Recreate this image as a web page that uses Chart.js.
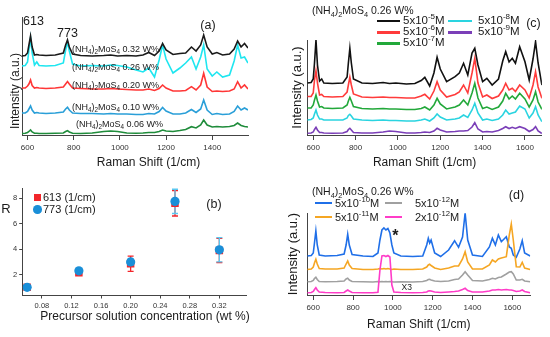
<!DOCTYPE html>
<html>
<head>
<meta charset="utf-8">
<script src="https://cdn.jsdelivr.net/npm/chart.js@4.4.1/dist/chart.umd.min.js"></script>
<style>
  body { margin: 0; background: #fff; }
  #wrap { position: relative; width: 550px; height: 337px; overflow: hidden; font-family: "Liberation Sans", Arial, sans-serif; color: #1a1a1a; }
  #wrap canvas { position: absolute; left: 0; top: 0; }
  .lbl { position: absolute; white-space: nowrap; line-height: 1; }
  .mid { transform: translateY(-50%); }
  .ctr { transform: translate(-50%, -50%); }
  .rot { transform: translate(-50%, -50%) rotate(-90deg); }
  .lbl sub, .lbl sup { font-size: 70%; line-height: 0; }
  .key { position: absolute; }
</style>
</head>
<body>
<div id="wrap">
  <canvas id="chartA" width="550" height="337"></canvas>
  <canvas id="chartB" width="550" height="337"></canvas>
  <canvas id="chartC" width="550" height="337"></canvas>
  <canvas id="chartD" width="550" height="337"></canvas>

  <!-- (a) -->
  <div class="lbl" style="left:23px;top:15px;font-size:12.5px">613</div>
  <div class="lbl" style="left:57px;top:27px;font-size:12.5px">773</div>
  <div class="lbl ctr" style="left:208px;top:25px;font-size:12.5px">(a)</div>
  <div class="lbl mid" style="left:72px;top:49px;font-size:9px">(NH<sub>4</sub>)<sub>2</sub>MoS<sub>4</sub> 0.32 W%</div>
  <div class="lbl mid" style="left:72px;top:66.7px;font-size:9px">(NH<sub>4</sub>)<sub>2</sub>MoS<sub>4</sub> 0.26 W%</div>
  <div class="lbl mid" style="left:72px;top:85px;font-size:9px">(NH<sub>4</sub>)<sub>2</sub>MoS<sub>4</sub> 0.20 W%</div>
  <div class="lbl mid" style="left:72px;top:106.7px;font-size:9px">(NH<sub>4</sub>)<sub>2</sub>MoS<sub>4</sub> 0.10 W%</div>
  <div class="lbl mid" style="left:76px;top:124.3px;font-size:9px">(NH<sub>4</sub>)<sub>2</sub>MoS<sub>4</sub> 0.06 W%</div>
  <div class="lbl ctr" style="left:148.5px;top:162px;font-size:12px">Raman Shift (1/cm)</div>
  <div class="lbl rot" style="left:15px;top:90.5px;font-size:12px">Intensity (a.u.)</div>

  <!-- (b) -->
  <div class="key" style="left:33.8px;top:193.8px;width:7px;height:7px;background:#f2262b"></div>
  <div class="lbl mid" style="left:43px;top:197.3px;font-size:11px">613 (1/cm)</div>
  <div class="key" style="left:33px;top:205px;width:8.6px;height:8.6px;border-radius:50%;background:#1a8fd8"></div>
  <div class="lbl mid" style="left:43px;top:209.3px;font-size:11px">773 (1/cm)</div>
  <div class="lbl ctr" style="left:6px;top:208px;font-size:13px">R</div>
  <div class="lbl ctr" style="left:214px;top:204px;font-size:12.5px">(b)</div>
  <div class="lbl ctr" style="left:145px;top:316px;font-size:12px">Precursor solution concentration (wt %)</div>

  <!-- (c) -->
  <div class="lbl mid" style="left:312px;top:10px;font-size:10.5px">(NH<sub>4</sub>)<sub>2</sub>MoS<sub>4</sub> 0.26 W%</div>
  <div class="key" style="left:376.7px;top:19.5px;width:23.3px;height:2.5px;background:#111"></div>
  <div class="key" style="left:376.7px;top:31.1px;width:23.3px;height:2.5px;background:#ff3b3b"></div>
  <div class="key" style="left:376.7px;top:42.1px;width:23.3px;height:2.5px;background:#22a83a"></div>
  <div class="key" style="left:448px;top:19.5px;width:24px;height:2.5px;background:#2ad4e0"></div>
  <div class="key" style="left:448px;top:31.1px;width:24px;height:2.5px;background:#7b3fb8"></div>
  <div class="lbl mid" style="left:403px;top:20.7px;font-size:11.5px">5x10<sup>-5</sup>M</div>
  <div class="lbl mid" style="left:403px;top:32.3px;font-size:11.5px">5x10<sup>-6</sup>M</div>
  <div class="lbl mid" style="left:403px;top:43.3px;font-size:11.5px">5x10<sup>-7</sup>M</div>
  <div class="lbl mid" style="left:478px;top:20.7px;font-size:11.5px">5x10<sup>-8</sup>M</div>
  <div class="lbl mid" style="left:478px;top:32.3px;font-size:11.5px">5x10<sup>-9</sup>M</div>
  <div class="lbl ctr" style="left:533.5px;top:23.3px;font-size:12.5px">(c)</div>

  <!-- (d) -->
  <div class="lbl mid" style="left:312px;top:190.7px;font-size:10.5px">(NH<sub>4</sub>)<sub>2</sub>MoS<sub>4</sub> 0.26 W%</div>
  <div class="key" style="left:315px;top:202.3px;width:17px;height:2px;background:#1f6fe8"></div>
  <div class="key" style="left:315px;top:215.7px;width:17px;height:2px;background:#f5a623"></div>
  <div class="key" style="left:385px;top:202.3px;width:17px;height:2px;background:#a0a0a0"></div>
  <div class="key" style="left:385px;top:215.7px;width:17px;height:2px;background:#ff3cc8"></div>
  <div class="lbl mid" style="left:335px;top:203.3px;font-size:11px">5x10<sup>-10</sup>M</div>
  <div class="lbl mid" style="left:335px;top:216.7px;font-size:11px">5x10<sup>-11</sup>M</div>
  <div class="lbl mid" style="left:415px;top:203.3px;font-size:11px">5x10<sup>-12</sup>M</div>
  <div class="lbl mid" style="left:415px;top:216.7px;font-size:11px">2x10<sup>-12</sup>M</div>
  <div class="lbl ctr" style="left:516.5px;top:195px;font-size:12.5px">(d)</div>
  <div class="lbl ctr" style="left:395.3px;top:236px;font-size:16px;font-weight:bold">*</div>
  <div class="lbl ctr" style="left:406.7px;top:287px;font-size:8.5px">X3</div>
</div>

<script>
// panel (a): precursor concentration series
const aShift = [576, 590, 600, 606, 613, 620, 630, 640, 650, 680, 720, 755, 765, 773, 781, 795, 830, 880, 930, 960, 990, 1030, 1070, 1100, 1125, 1150, 1170, 1185, 1200, 1230, 1260, 1285, 1310, 1330, 1350, 1363, 1378, 1400, 1420, 1445, 1475, 1495, 1510, 1525, 1540, 1555];
const a032 = [79, 79.5, 82, 90, 99, 88, 80, 80.5, 80, 79.5, 80, 82, 90, 95, 88, 81, 79.5, 79, 79.5, 80, 79, 79.5, 79, 80, 82.5, 79.5, 84, 91.5, 85, 80.5, 81.5, 82, 88, 84, 90, 100, 88, 81, 82.5, 80, 81, 86, 94, 88, 91.5, 87];
const a026 = [69, 69.5, 73, 85, 97, 82, 70, 73, 69.5, 69, 69.5, 72, 85, 93, 84, 71, 69, 69.5, 69, 70, 69.5, 68, 65, 63, 67, 58, 75, 90, 76, 62, 67, 72, 78, 66, 78, 90, 66, 59, 63, 58, 60, 74, 90, 77, 78, 72];
const a020 = [47, 47, 49, 51, 55, 49.5, 47, 47.5, 47, 46.5, 47, 48, 51, 53.5, 51, 47, 46.5, 46, 46, 46.5, 46, 45.5, 45, 45, 46, 44.5, 46.5, 50, 47, 44, 44, 44.5, 48.3, 45, 50, 61.7, 48, 43.5, 44, 43.5, 44, 46, 53.3, 47, 50, 46];
const a010 = [22, 22, 23.5, 26, 29, 25, 22, 22.5, 22, 21.5, 22, 23, 26, 27.7, 25, 22, 21.5, 21.5, 21, 21.5, 21, 21, 20.5, 20.5, 21.5, 21, 23.5, 27.5, 24, 21, 21, 22, 25.5, 22.5, 26, 35, 25, 20.5, 21.5, 20.5, 21, 23.5, 29, 25, 27, 25];
const a006 = [1.5, 1.7, 2.5, 3.5, 5, 3, 1.7, 1.8, 1.5, 1.5, 1.7, 2, 3.5, 4.3, 3, 1.7, 1.5, 2, 3.5, 4, 3.5, 2, 1.7, 2, 2.5, 2.5, 3.5, 5, 4, 3.5, 4.5, 5.5, 8.3, 7, 10, 15, 10, 8, 8.5, 8, 8.5, 9.5, 12, 9.5, 8.5, 8];
const aTicks = [600, 800, 1000, 1200, 1400];

// panel (b): enhancement ratio vs concentration
const concX = [0.06, 0.13, 0.20, 0.26, 0.32];
const r613 = [1.0, 2.15, 2.85, 7.6, 3.9];
const r773 = [1.0, 2.3, 3.0, 7.75, 3.95];
const err613 = [0.1, 0.15, 0.6, 1.0, 0.95];
const err773 = [0.1, 0.15, 0.25, 0.95, 0.95];
const bXTicks = [0.08, 0.12, 0.16, 0.20, 0.24, 0.28, 0.32];
const bYTicks = [2, 4, 6, 8];

// panel (c): R6G dilution, 5e-5 ... 5e-9 M
const cShift = [572, 590, 600, 606, 613, 620, 630, 640, 650, 690, 740, 760, 766, 773, 780, 790, 830, 880, 930, 960, 990, 1040, 1080, 1110, 1127, 1150, 1170, 1185, 1200, 1230, 1270, 1290, 1310, 1330, 1350, 1363, 1378, 1400, 1420, 1445, 1475, 1495, 1509, 1525, 1540, 1555, 1575, 1600, 1620, 1638, 1650, 1662, 1680];
const c5e5 = [52, 52.5, 56, 72, 95, 70, 54, 56, 52, 51.5, 52, 58, 72, 86.7, 72, 56, 52, 51.5, 52.5, 51.5, 52, 51, 51.5, 54.5, 57.7, 49, 62, 77.7, 66, 53.3, 58.3, 62, 71.7, 60, 82, 86.7, 70, 53.3, 56.7, 50, 56, 74, 83.3, 73, 76.7, 71.7, 88.3, 73.3, 55, 76, 93.3, 72, 50];
const c5e6 = [38.5, 38.5, 42, 55, 64.3, 52, 40, 40.5, 38.5, 38, 38.5, 43, 50, 57.7, 50, 41, 38, 37.5, 38, 37.5, 37.5, 37, 37, 39, 40.7, 36, 44, 53.3, 45, 38, 40.5, 43, 50, 42, 62, 76.7, 52, 38, 40, 36.5, 39, 45, 51.7, 45, 46.7, 43.5, 50, 45, 37, 50, 63.3, 48, 36.7];
const c5e7 = [27, 27, 30, 35, 40, 34, 28, 28.5, 27, 26.5, 27, 30, 34, 37.7, 34, 28.5, 26.5, 26, 26.5, 26, 26, 25.5, 25.5, 26.5, 28, 25, 30, 36.7, 31, 26, 28, 30, 35, 30, 42, 51.7, 37, 26.5, 28, 25.5, 28, 34, 41.7, 36, 39, 36, 41.7, 36, 28, 35, 43.3, 33, 25.7];
const c5e8 = [15, 15.5, 17, 21, 25, 20, 16, 16, 15, 15, 15, 17, 19.5, 20.7, 19, 16, 15, 14.5, 15, 14.5, 14.5, 14, 14, 15, 16, 14, 17, 21, 18, 15, 16, 17, 20, 17.5, 25, 31.7, 22, 15, 16, 14.5, 16, 20, 25, 21, 22, 23, 29, 26, 17, 22, 28.3, 20, 13.3];
const c5e9 = [1.8, 2, 3, 5.5, 7.7, 5, 2.5, 2.5, 2, 1.8, 2, 3.5, 5.5, 6.7, 5, 2.5, 2, 2, 3, 4, 3.5, 2, 2, 2.5, 3, 2.5, 4, 6.7, 5, 3, 3.5, 4, 4, 4.5, 8, 12.3, 6, 3, 3.5, 3, 4.5, 6.5, 8.3, 6.5, 7.7, 6.5, 8.3, 6.5, 3.5, 5.5, 8.3, 4, 1.5];
const cTicks = [600, 800, 1000, 1200, 1400, 1600];

// panel (d): lowest concentrations, 5e-10 ... 2e-12 M
const dShift = [570, 590, 600, 606, 613, 620, 630, 660, 720, 755, 765, 773, 781, 795, 850, 900, 925, 935, 945, 955, 965, 975, 985, 995, 1005, 1040, 1100, 1150, 1170, 1178, 1185, 1192, 1210, 1240, 1280, 1310, 1330, 1350, 1363, 1376, 1400, 1450, 1485, 1500, 1515, 1530, 1545, 1570, 1585, 1595, 1605, 1620, 1638, 1650, 1662, 1690];
const d5e10 = [39, 39.5, 42, 52, 64, 50, 40, 39, 39.5, 41, 50, 60.7, 50, 40.5, 39, 38.5, 42, 55, 65, 67, 65, 66.5, 62, 50, 42, 39, 38.5, 39, 50, 56.7, 52, 55, 42, 38.5, 45, 54.3, 47.7, 58, 82, 55, 40, 38.5, 48, 56.7, 50, 60, 53.3, 58.3, 48, 46.7, 40, 37.7, 46, 54.3, 42, 39];
const d5e11 = [25.5, 26, 28, 32, 35.7, 31, 26.5, 26, 26, 27, 31, 34, 30, 26.5, 25.5, 25.5, 26, 26.5, 26, 26.5, 26, 26.5, 26, 25.5, 26, 25.5, 25.5, 26, 28, 30, 30.7, 29.5, 27, 25.5, 27, 29, 29, 36, 43.3, 33, 26, 26, 30, 35, 33, 36, 37, 38.3, 60, 71, 55, 28.3, 28, 32.7, 27, 25.5];
const d5e12 = [13.3, 13.5, 14.5, 16.5, 17.7, 15.5, 13.5, 13.3, 13.5, 14, 16, 16.7, 15, 13.5, 13.3, 13, 13.5, 13.3, 13.5, 13.3, 13.5, 13.3, 13.5, 13.3, 13, 13.3, 13, 13.5, 14.5, 15.5, 15.7, 15, 14, 13.5, 14, 15.5, 16, 20, 23.3, 20, 14.5, 14, 15.5, 16.7, 16, 17.5, 18, 21, 23, 23.3, 21, 15, 15, 15.7, 14, 13.3];
const d2e12 = [2.3, 2.5, 3.5, 5.5, 7.3, 5, 3, 2.5, 2.3, 2.5, 4, 5, 4, 2.5, 2.3, 2.3, 2.8, 25, 39, 39.5, 38.5, 39.5, 38, 10, 3, 2.5, 2.3, 2.5, 3, 4, 4.3, 4, 3, 2.5, 3, 3.5, 4, 5.5, 6.7, 4.5, 3, 3, 4, 5, 5, 5.5, 5, 5.5, 5, 5, 4.5, 3.5, 4, 5, 3.5, 2.3];
const dTicks = [600, 800, 1000, 1200, 1400, 1600];

const family = "'Liberation Sans', Arial, sans-serif";
const axisColor = "#444";

// chart area given in page pixels; axis boxes fixed so the area lands exactly there
function padFor(area, yW, xH) {
  return { left: area.left - yW, top: area.top, right: 550 - area.right, bottom: 337 - area.bottom - xH };
}

function spectra(id, shifts, lines, cfg) {
  new Chart(document.getElementById(id), {
    type: "line",
    data: {
      datasets: lines.map((l) => ({
        data: shifts.map((x, i) => ({ x, y: l.values[i] })),
        borderColor: l.color,
        borderWidth: 1.6,
        pointRadius: 0,
        fill: false,
      })),
    },
    options: {
      responsive: false,
      animation: false,
      events: [],
      devicePixelRatio: 1,
      layout: { padding: padFor(cfg.area, cfg.yW, cfg.xH) },
      plugins: { legend: { display: false }, tooltip: { enabled: false } },
      scales: {
        x: {
          type: "linear",
          min: cfg.xMin,
          max: cfg.xMax,
          afterFit: (s) => { s.height = cfg.xH; },
          afterBuildTicks: (s) => { s.ticks = cfg.ticks.map((v) => ({ value: v })); },
          ticks: {
            maxRotation: 0,
            padding: 3,
            color: "#333",
            font: { family, size: 8 },
            callback: (v) => String(v),
          },
          grid: { drawOnChartArea: false, tickLength: 5, color: axisColor },
          border: { color: axisColor, width: 1 },
          title: cfg.xTitle
            ? { display: true, text: cfg.xTitle, color: "#1a1a1a", font: { family, size: 12 }, padding: 0 }
            : { display: false },
        },
        y: {
          min: 0,
          max: cfg.yMax,
          afterFit: (s) => { s.width = cfg.yW; },
          ticks: { display: false },
          grid: { display: false },
          border: { color: axisColor, width: 1 },
          title: cfg.yTitle
            ? { display: true, text: cfg.yTitle, color: "#1a1a1a", font: { family, size: 13 }, padding: { top: cfg.yTitlePad, bottom: 0 } }
            : { display: false },
        },
      },
    },
  });
}

spectra("chartA", aShift, [
  { values: a032, color: "#1a1a1a" },
  { values: a026, color: "#1fe6f0" },
  { values: a020, color: "#ff3636" },
  { values: a010, color: "#2a9fd8" },
  { values: a006, color: "#1f8c3b" },
], { area: { left: 22, top: 17, right: 248, bottom: 135 }, yW: 22, xH: 35, xMin: 576, xMax: 1555, yMax: 118, ticks: aTicks });

spectra("chartC", cShift, [
  { values: c5e5, color: "#111111" },
  { values: c5e6, color: "#ff3b3b" },
  { values: c5e7, color: "#22a83a" },
  { values: c5e8, color: "#2ad4e0" },
  { values: c5e9, color: "#7b3fb8" },
], { area: { left: 307.3, top: 40, right: 541.9, bottom: 135 }, yW: 20, xH: 35, xMin: 572, xMax: 1680, yMax: 95, ticks: cTicks,
     xTitle: "Raman Shift (1/cm)", yTitle: "Intensity (a.u.)", yTitlePad: 2 });

spectra("chartD", dShift, [
  { values: d2e12, color: "#ff3cc8" },
  { values: d5e11, color: "#f5a623" },
  { values: d5e10, color: "#1f6fe8" },
  { values: d5e12, color: "#a0a0a0" },
], { area: { left: 307.3, top: 213.3, right: 530.2, bottom: 295 }, yW: 24, xH: 36.5, xMin: 570, xMax: 1690, yMax: 81.7, ticks: dTicks,
     xTitle: "Raman Shift (1/cm)", yTitle: "Intensity (a.u.)", yTitlePad: 2.2 });

// error bars for panel (b), drawn under the markers
const errorBars = {
  id: "errorBars",
  beforeDatasetsDraw(chart) {
    const { ctx, scales: { x, y } } = chart;
    const sets = [[r613, err613, "#f2262b"], [r773, err773, "#5cc8f0"]];
    ctx.save();
    ctx.lineWidth = 1.3;
    sets.forEach(([vals, errs, color]) => {
      ctx.strokeStyle = color;
      concX.forEach((c, i) => {
        const px = x.getPixelForValue(c);
        const top = y.getPixelForValue(vals[i] + errs[i]);
        const bot = y.getPixelForValue(vals[i] - errs[i]);
        ctx.beginPath();
        ctx.moveTo(px, top); ctx.lineTo(px, bot);
        ctx.moveTo(px - 3, top); ctx.lineTo(px + 3, top);
        ctx.moveTo(px - 3, bot); ctx.lineTo(px + 3, bot);
        ctx.stroke();
      });
    });
    ctx.restore();
  },
};

const bArea = { left: 22.7, top: 188, right: 246.7, bottom: 295 };
new Chart(document.getElementById("chartB"), {
  type: "scatter",
  data: {
    datasets: [
      { label: "773 (1/cm)", data: concX.map((x, i) => ({ x, y: r773[i] })), pointStyle: "circle", pointRadius: 4.6, backgroundColor: "#1a8fd8", borderWidth: 0 },
      { label: "613 (1/cm)", data: concX.map((x, i) => ({ x, y: r613[i] })), pointStyle: "rect", pointRadius: 5.3, backgroundColor: "#f2262b", borderWidth: 0 },
    ],
  },
  options: {
    responsive: false,
    animation: false,
    events: [],
    devicePixelRatio: 1,
    layout: { padding: padFor(bArea, 22.7, 14) },
    plugins: { legend: { display: false }, tooltip: { enabled: false } },
    scales: {
      x: {
        type: "linear",
        min: 0.054,
        max: 0.357,
        afterFit: (s) => { s.height = 14; },
        afterBuildTicks: (s) => { s.ticks = bXTicks.map((v) => ({ value: v })); },
        ticks: { maxRotation: 0, padding: 2.5, color: "#333", font: { family, size: 7.5 }, callback: (v) => v.toFixed(2) },
        grid: { drawOnChartArea: false, tickLength: 3.5, color: axisColor },
        border: { color: axisColor, width: 1 },
      },
      y: {
        min: 0.4,
        max: 8.8,
        afterFit: (s) => { s.width = 22.7; },
        afterBuildTicks: (s) => { s.ticks = bYTicks.map((v) => ({ value: v })); },
        ticks: { padding: 2, color: "#333", font: { family, size: 7.5 }, callback: (v) => String(v) },
        grid: { drawOnChartArea: false, tickLength: 3.5, color: axisColor },
        border: { color: axisColor, width: 1 },
      },
    },
  },
  plugins: [errorBars],
});
</script>
</body>
</html>
